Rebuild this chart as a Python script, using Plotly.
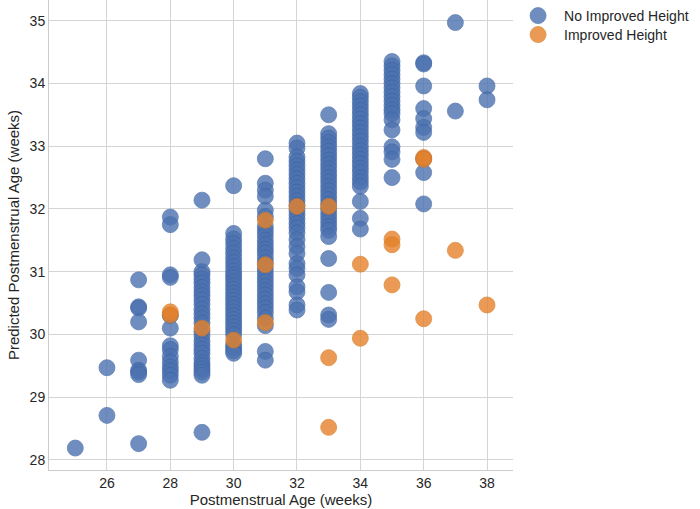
import plotly.graph_objects as go

# postmenstrual age (weeks) per column and the predicted values
no_improved_ages = [25, 26, 27, 28, 29, 30, 31, 32, 33, 34, 35, 36, 37, 38]
no_improved_pred = [
    [28.19],
    [29.47, 28.71],
    [30.87, 30.44, 30.42, 30.20, 29.59, 29.43, 29.40, 29.36, 28.26],
    [31.87, 31.75, 30.95, 30.91, 30.30, 30.10, 29.82, 29.76, 29.65, 29.56, 29.48, 29.42, 29.35, 29.27],
    [32.14, 31.19, 31.00, 30.95, 30.88, 30.82, 30.75, 30.68, 30.62, 30.55, 30.48, 30.40, 30.33, 30.26,
     30.18, 30.05, 29.98, 29.90, 29.83, 29.76, 29.70, 29.62, 29.55, 29.50, 29.45, 29.40, 29.35, 28.44],
    [32.37, 31.61, 31.52, 31.45, 31.37, 31.30, 31.22, 31.15, 31.08, 31.01, 30.95, 30.90, 30.84, 30.78,
     30.72, 30.66, 30.60, 30.54, 30.48, 30.42, 30.36, 30.30, 30.24, 30.18, 30.12, 30.06, 30.00, 29.84,
     29.79, 29.74, 29.70],
    [32.80, 32.41, 32.30, 32.20, 31.98, 31.88, 31.72, 31.65, 31.58, 31.50, 31.43, 31.36, 31.30, 31.22,
     31.15, 31.05, 30.98, 30.91, 30.84, 30.77, 30.70, 30.63, 30.56, 30.49, 30.42, 30.35, 30.26, 30.14,
     29.73, 29.59],
    [33.05, 32.97, 32.83, 32.76, 32.69, 32.62, 32.55, 32.48, 32.41, 32.34, 32.27, 32.20, 32.13, 32.06,
     31.98, 31.91, 31.84, 31.77, 31.70, 31.62, 31.51, 31.40, 31.29, 31.13, 31.05, 30.95, 30.76, 30.68,
     30.47, 30.39],
    [33.50, 33.20, 33.13, 33.06, 32.99, 32.92, 32.85, 32.78, 32.71, 32.64, 32.57, 32.50, 32.43, 32.36,
     32.29, 32.22, 32.15, 32.08, 32.00, 31.93, 31.86, 31.79, 31.72, 31.66, 31.56, 31.21, 30.67, 30.31,
     30.24],
    [33.84, 33.78, 33.71, 33.64, 33.57, 33.50, 33.43, 33.36, 33.29, 33.22, 33.15, 33.08, 33.00, 32.93,
     32.86, 32.79, 32.72, 32.65, 32.58, 32.50, 32.43, 32.36, 32.12, 31.85, 31.68],
    [34.35, 34.28, 34.21, 34.14, 34.07, 34.00, 33.93, 33.86, 33.79, 33.72, 33.65, 33.58, 33.52, 33.42,
     33.26, 32.99, 32.91, 32.79, 32.50],
    [34.33, 34.31, 33.96, 33.60, 33.44, 33.30, 33.22, 32.80, 32.58, 32.08],
    [34.97, 33.56],
    [33.96, 33.74],
]

improved_ages = [28, 29, 30, 31, 32, 33, 34, 35, 36, 37, 38]
improved_pred = [
    [30.36, 30.31],
    [30.10],
    [29.91],
    [31.82, 31.11, 30.19],
    [32.04],
    [32.04, 29.63, 28.52],
    [31.12, 29.94],
    [31.52, 31.43, 30.79],
    [32.82, 32.79, 30.25],
    [31.34],
    [30.47],
]

x_ticks = [26, 28, 30, 32, 34, 36, 38]
y_ticks = [28, 29, 30, 31, 32, 33, 34, 35]


def flatten(ages, preds):
    xs, ys = [], []
    for a, vals in zip(ages, preds):
        for v in vals:
            xs.append(a)
            ys.append(v)
    return xs, ys


fig = go.Figure()

for name, ages, preds, color, edge, leg in [
    ('No Improved Height', no_improved_ages, no_improved_pred, '#4C72B0', '#3E64A4', 'legend'),
    ('Improved Height', improved_ages, improved_pred, '#E5822A', '#D9761E', 'legend2'),
]:
    xs, ys = flatten(ages, preds)
    fig.add_trace(go.Scatter(
        x=xs, y=ys, mode='markers', name=name, legend=leg, showlegend=True,
        marker=dict(size=16, color=color, opacity=0.8, line=dict(width=0.8, color=edge)),
    ))

axis_style = dict(
    showgrid=True, gridcolor='#d4d4d4', gridwidth=1,
    showline=True, linecolor='#cccccc', linewidth=1,
    zeroline=False, ticks='', automargin=False,
    tickfont=dict(size=14, color='#262626'),
)

legend_style = dict(
    x=0.998, xanchor='left', yanchor='top',
    font=dict(size=14, color='#262626'),
    itemwidth=42, bgcolor='rgba(0,0,0,0)', borderwidth=0,
)

fig.update_layout(
    width=700, height=509,
    showlegend=True,
    margin=dict(l=49, r=187, t=0, b=39, autoexpand=False),
    plot_bgcolor='white', paper_bgcolor='white',
    font=dict(family='Liberation Sans, Arial, sans-serif', color='#262626'),
    xaxis=dict(
        range=[24.17, 38.82], tickvals=x_ticks,
        title=dict(text='Postmenstrual Age (weeks)', font=dict(size=15), standoff=2),
        **axis_style,
    ),
    yaxis=dict(
        range=[27.84, 35.33], tickvals=y_ticks,
        title=dict(text='Predicted Postmenstrual Age (weeks)', font=dict(size=15), standoff=6),
        **axis_style,
    ),
    legend=dict(y=1.0, **legend_style),
    legend2=dict(y=0.9596, **legend_style),
)

# drop the browser's default page margin so the figure sits at the window's corner
fig.write_html("out.html", config={'displayModeBar': False},
               post_script="document.body.style.margin='0';")
